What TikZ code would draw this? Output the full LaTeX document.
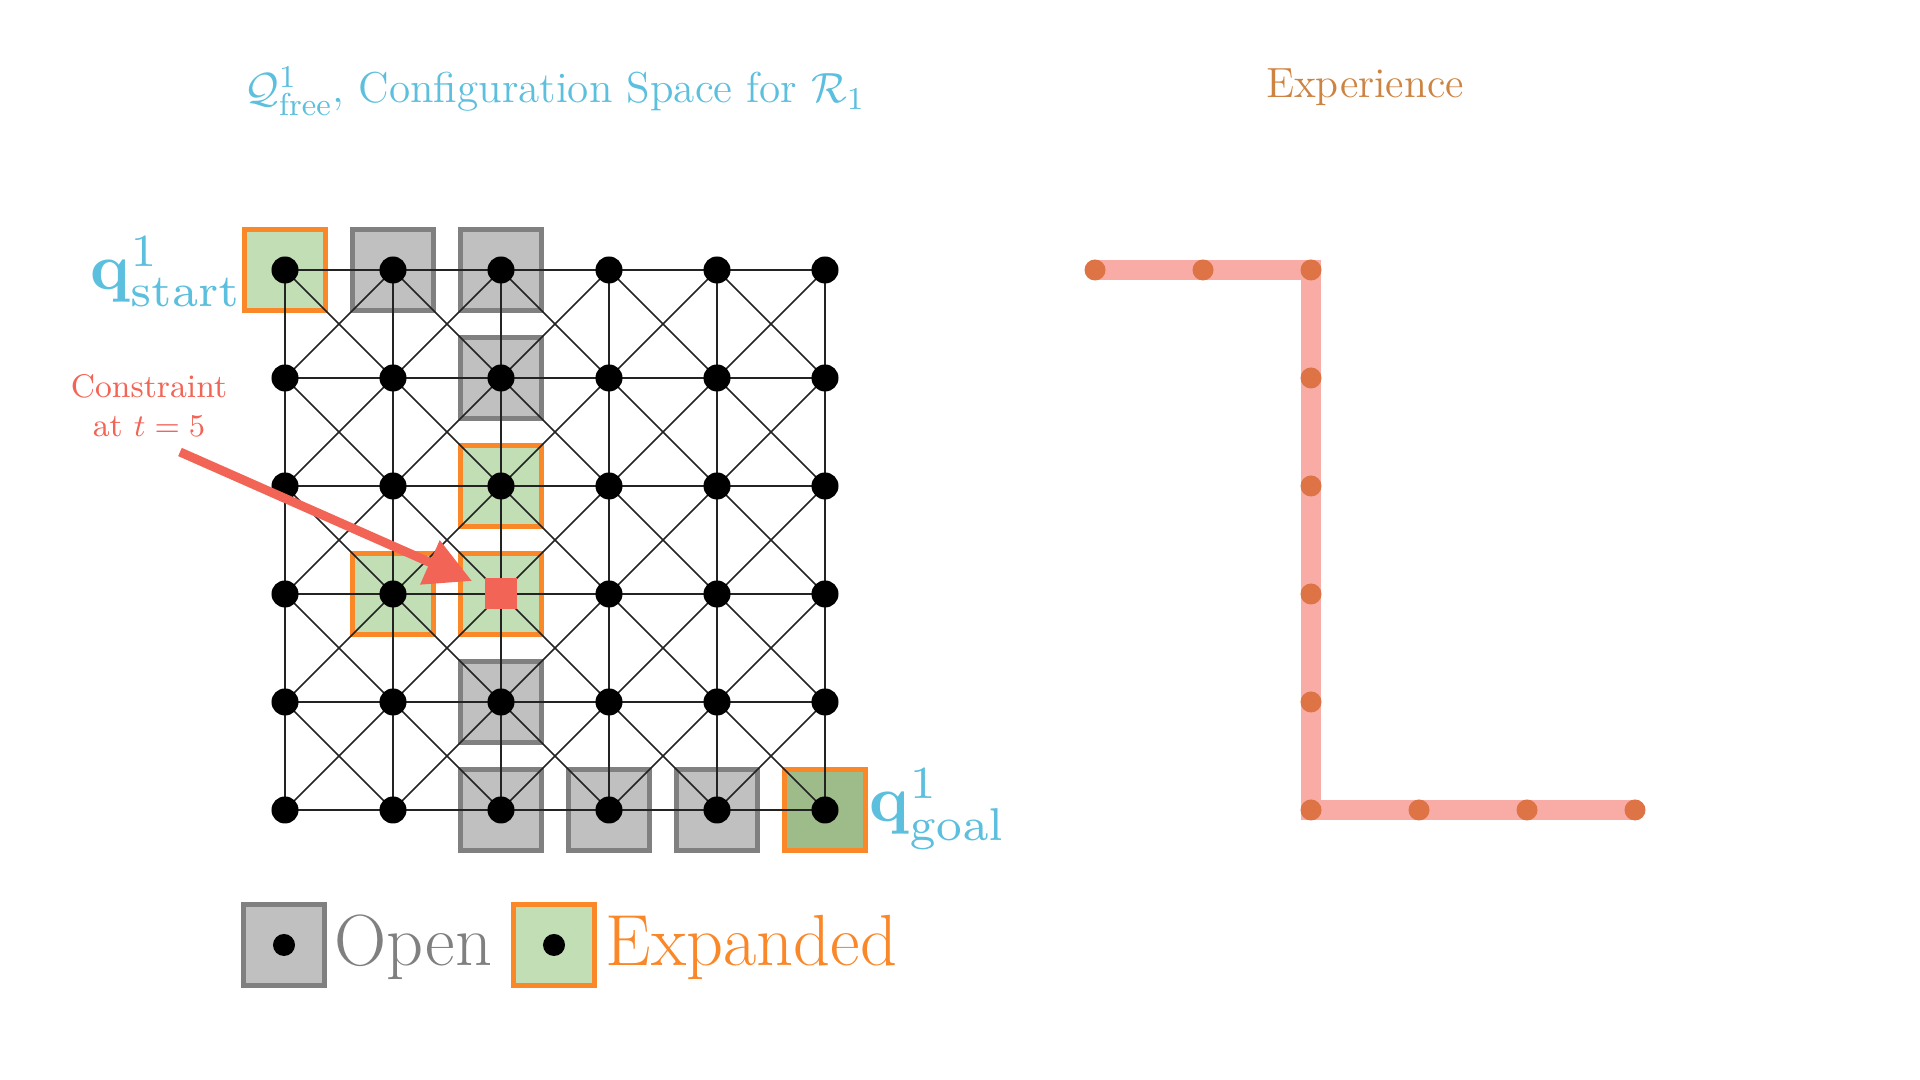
\documentclass[tikz,border=0pt]{standalone}
\usepackage{graphicx}
\usetikzlibrary{arrows.meta}
\definecolor{titleblue}{RGB}{91,191,221}
\definecolor{expbrown}{RGB}{205,132,66}
\definecolor{cellgray}{RGB}{192,192,192}
\definecolor{bordergray}{RGB}{128,128,128}
\definecolor{cellgreen}{RGB}{193,222,180}
\definecolor{goalgreen}{RGB}{158,188,138}
\definecolor{cellorange}{RGB}{250,135,40}
\definecolor{conred}{RGB}{242,100,85}
\definecolor{pathpink}{RGB}{249,171,165}
\definecolor{pathdot}{RGB}{222,115,70}
\definecolor{gridline}{RGB}{35,35,35}
\tikzset{
  opencell/.style={draw=bordergray, fill=cellgray, line width=0.05cm, minimum size=0.8cm, inner sep=0},
  expcell/.style={draw=cellorange, fill=cellgreen, line width=0.05cm, minimum size=0.8cm, inner sep=0},
  gridedge/.style={draw=gridline, line width=0.015cm},
  griddot/.style={circle, fill=black, minimum size=0.27cm, inner sep=0},
  legdot/.style={circle, fill=black, minimum size=0.22cm, inner sep=0},
  pathdotstyle/.style={circle, fill=pathdot, minimum size=0.21cm, inner sep=0},
}
\begin{document}
\begin{tikzpicture}[x=0.01cm,y=-0.01cm]
\useasboundingbox (0,0) rectangle (1920,1080);

% titles
\node[anchor=base, text=titleblue, font=\fontsize{12.3}{14}\selectfont, inner sep=0] (title) at (555,103)
  {$\mathcal{Q}^1_{\mathrm{free}}$, Configuration Space for $\mathcal{R}_1$};
\node[anchor=base, text=expbrown, font=\fontsize{12}{14}\selectfont, inner sep=0] (exptitle) at (1365,98) {Experience};

% grid coordinates
\foreach \i in {0,...,5}{
  \foreach \j in {0,...,5}{
    \coordinate (g-\i-\j) at ({285+108*\i},{270+108*\j});
  }
}

% cells
\node[expcell] (c-0-0) at (g-0-0) {};
\node[opencell] (c-1-0) at (g-1-0) {};
\node[opencell] (c-2-0) at (g-2-0) {};
\node[opencell] (c-2-1) at (g-2-1) {};
\node[expcell] (c-2-2) at (g-2-2) {};
\node[expcell] (c-1-3) at (g-1-3) {};
\node[expcell] (c-2-3) at (g-2-3) {};
\node[opencell] (c-2-4) at (g-2-4) {};
\node[opencell] (c-2-5) at (g-2-5) {};
\node[opencell] (c-3-5) at (g-3-5) {};
\node[opencell] (c-4-5) at (g-4-5) {};
\node[expcell, fill=goalgreen] (c-5-5) at (g-5-5) {};

% edges
\foreach \i in {0,...,4}{
  \pgfmathtruncatemacro\ni{\i+1}
  \foreach \j in {0,...,5}{
    \draw[gridedge] (g-\i-\j) -- (g-\ni-\j);
    \draw[gridedge] (g-\j-\i) -- (g-\j-\ni);
  }
  \foreach \j in {0,...,4}{
    \pgfmathtruncatemacro\nj{\j+1}
    \draw[gridedge] (g-\i-\j) -- (g-\ni-\nj);
    \draw[gridedge] (g-\ni-\j) -- (g-\i-\nj);
  }
}

% dots
\foreach \i in {0,...,5}{
  \foreach \j in {0,...,5}{
    \pgfmathtruncatemacro\skipme{and(\i==2,\j==3)}
    \ifnum\skipme=0 \node[griddot] (d-\i-\j) at (g-\i-\j) {};\fi
  }
}

% constraint
\node[fill=conred, minimum size=0.31cm, inner sep=0] (obst) at (g-2-3) {};
\node[align=center, text=conred, font=\fontsize{9.3}{11.1}\selectfont, inner sep=0] (contxt) at (149,406)
  {Constraint\\at $t=5$};
\coordinate (arrstart) at (180,452);
\coordinate (arrtip) at (472,581);
\draw[conred, line width=0.09cm, -{Triangle[length=0.46cm,width=0.46cm]}] (arrstart) -- (arrtip);

% labels
\node[anchor=base east, text=titleblue, inner sep=0] (qstart) at (243,290)
  {\scalebox{1.87}{$\mathbf{q}^1_{\mathrm{start}}$}};
\node[anchor=base west, text=titleblue, inner sep=0] (qgoal) at (869,822)
  {\scalebox{1.87}{$\mathbf{q}^1_{\mathrm{goal}}$}};

% legend
\node[opencell] (legopen) at (284,945) {};
\node[legdot] (legopendot) at (legopen) {};
\node[anchor=base west, text=bordergray, font=\fontsize{20.6}{24}\selectfont, inner sep=0] (opentxt) at (334,966) {Open};
\node[expcell] (legexp) at (554,945) {};
\node[legdot] (legexpdot) at (legexp) {};
\node[anchor=base west, text=cellorange, font=\fontsize{20.6}{24}\selectfont, inner sep=0] (exptxt) at (605,966) {Expanded};

% experience path
\coordinate (p1) at (1095,270);
\coordinate (p2) at (1203,270);
\coordinate (p3) at (1311,270);
\coordinate (p4) at (1311,378);
\coordinate (p5) at (1311,486);
\coordinate (p6) at (1311,594);
\coordinate (p7) at (1311,702);
\coordinate (p8) at (1311,810);
\coordinate (p9) at (1419,810);
\coordinate (p10) at (1527,810);
\coordinate (p11) at (1635,810);
\draw[pathpink, line width=0.2cm, line join=miter] (p1) -- (p2) -- (p3) -- (p4) -- (p5) -- (p6) -- (p7) -- (p8) -- (p9) -- (p10) -- (p11);
\foreach \k in {1,...,11}{
  \node[pathdotstyle] (pd\k) at (p\k) {};
}
\end{tikzpicture}
\end{document}
